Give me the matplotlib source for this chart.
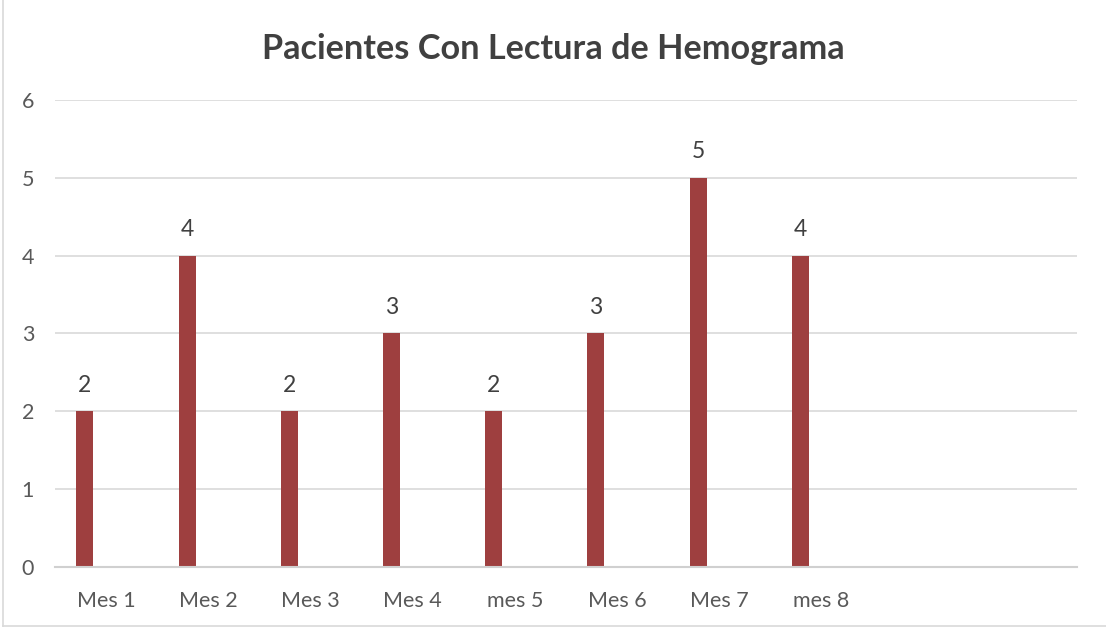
import matplotlib.pyplot as plt
from matplotlib.lines import Line2D

meses = ["Mes 1", "Mes 2", "Mes 3", "Mes 4", "mes 5", "Mes 6", "Mes 7", "mes 8"]
pacientes = [2, 4, 2, 3, 2, 3, 5, 4]
n_slots = 10  # el eje de Excel tiene dos categorias vacias al final

plt.rcParams['font.family'] = ['Lato', 'DejaVu Sans']

fig = plt.figure(figsize=(11.06, 6.28), dpi=100)
ax = fig.add_axes([0.0497, 0.0971, 0.9241, 0.7437])

pos = [i - 0.207 for i in range(len(meses))]
bars = ax.bar(pos, pacientes, width=0.166, color='#9E3F3F', zorder=3)

for x, v in zip(pos, pacientes):
    ax.text(x, v + 0.2, str(v), ha='center', va='bottom', fontsize=16.5, color='#404040')

ax.set_xlim(-0.5, n_slots - 0.5)
ax.set_ylim(0, 6)
ax.set_xticks(range(len(meses)))
ax.set_xticklabels(meses)
ax.set_yticks(range(7))
ax.tick_params(axis='both', length=0, labelsize=15.5, colors='#595959')
ax.tick_params(axis='x', pad=17)
ax.tick_params(axis='y', pad=15)

ax.grid(axis='y', color='#D9D9D9', linewidth=1.2, zorder=0)
for s in ['top', 'right', 'left']:
    ax.spines[s].set_visible(False)
ax.spines['bottom'].set_color('#D0D0D0')
ax.spines['bottom'].set_linewidth(1.5)
ax.spines['bottom'].set_zorder(4)

fig.text(0.5, 0.922, 'Pacientes Con Lectura de Hemograma', ha='center', va='center',
         fontsize=24.7, fontweight='bold', color='#404040')

# borde del grafico
fig.add_artist(Line2D([0.003, 0.003], [0.003, 1], color='#D9D9D9', linewidth=1.2))
fig.add_artist(Line2D([0.003, 1], [0.003, 0.003], color='#D9D9D9', linewidth=1.2))

fig.savefig('out.png', dpi=100)
